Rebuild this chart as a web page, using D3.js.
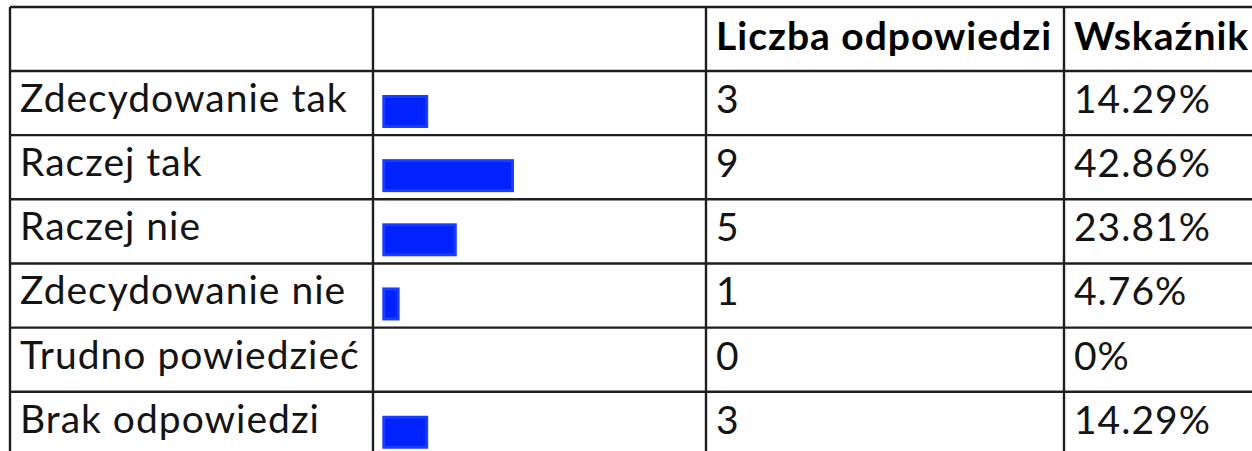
<!DOCTYPE html>
<html>
<head>
<meta charset="utf-8">
<script src="https://cdn.jsdelivr.net/npm/d3@7"></script>
<style>
  html, body { margin: 0; padding: 0; background: #fff; }
  svg { display: block; }
  text { font-family: Lato, "Open Sans", sans-serif; letter-spacing: 1px; }
</style>
</head>
<body>
<svg id="chart" width="1252" height="451"></svg>
<script>
const headers = ["", "", "Liczba odpowiedzi", "Wskaźnik"];
const categories = ["Zdecydowanie tak", "Raczej tak", "Raczej nie", "Zdecydowanie nie", "Trudno powiedzieć", "Brak odpowiedzi"];
const counts = [3, 9, 5, 1, 0, 3];
const percents = ["14.29%", "42.86%", "23.81%", "4.76%", "0%", "14.29%"];

const W = 1252, H = 451;
const svg = d3.select("#chart");

const colEdges = [10, 373, 706, 1064, 1400];
const tableTop = 7, headerBottom = 71, rowH = 64.15;

const y = d3.scaleBand().domain(categories).range([headerBottom, headerBottom + rowH * categories.length]).paddingInner(0).paddingOuter(0);
const x = d3.scaleLinear().domain([0, d3.max(counts)]).range([0, 128.7]);

const fontSize = 39;
const textColor = "#141414";

// header texts
svg.append("g").selectAll("text").data(headers).join("text")
  .attr("x", (d, i) => colEdges[i] + 10)
  .attr("y", tableTop + 43)
  .attr("font-size", fontSize)
  .attr("font-weight", 700)
  .attr("fill", "#000")
  .text(d => d);

const rows = svg.append("g").selectAll("g").data(categories).join("g")
  .attr("transform", d => `translate(0,${y(d)})`);

rows.append("text")
  .attr("x", colEdges[0] + 10)
  .attr("y", 41)
  .attr("font-size", fontSize)
  .attr("fill", textColor)
  .text(d => d);

rows.filter((d, i) => counts[i] > 0).append("rect")
  .attr("x", colEdges[1] + 10.8)
  .attr("y", 25.5)
  .attr("width", d => x(counts[categories.indexOf(d)]))
  .attr("height", 30)
  .attr("fill", "#0022ff")
  .attr("stroke", "#1a3cff")
  .attr("stroke-width", 3);

rows.append("text")
  .attr("x", colEdges[2] + 10)
  .attr("y", 42)
  .attr("font-size", fontSize)
  .attr("fill", textColor)
  .text((d, i) => counts[i]);

rows.append("text")
  .attr("x", colEdges[3] + 10)
  .attr("y", 42)
  .attr("font-size", fontSize)
  .attr("fill", textColor)
  .text((d, i) => percents[i]);

// grid lines
const lineColor = "#1e1e1e";
const hLines = [tableTop, headerBottom].concat(categories.map(c => y(c) + y.bandwidth()));
svg.append("g").selectAll("line").data(hLines).join("line")
  .attr("x1", colEdges[0]).attr("x2", W)
  .attr("y1", d => d).attr("y2", d => d)
  .attr("stroke", lineColor).attr("stroke-width", 2.4);
svg.append("g").selectAll("line").data(colEdges.slice(0, 4)).join("line")
  .attr("x1", d => d).attr("x2", d => d)
  .attr("y1", tableTop).attr("y2", H)
  .attr("stroke", lineColor).attr("stroke-width", 2.4);
</script>
</body>
</html>
